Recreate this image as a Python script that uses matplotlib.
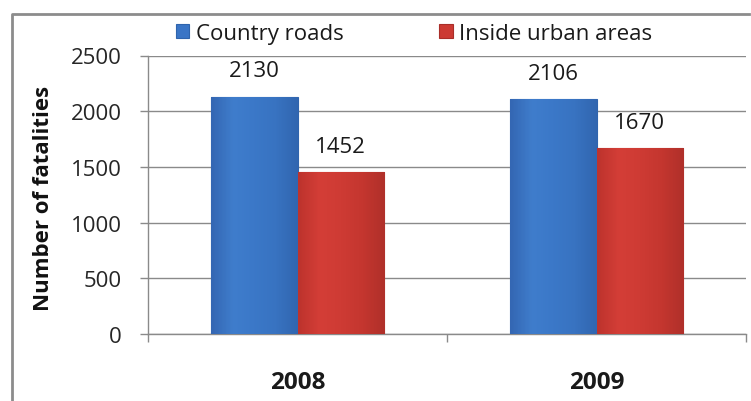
import numpy as np
import matplotlib.pyplot as plt
from matplotlib.colors import LinearSegmentedColormap
from matplotlib.lines import Line2D

years = ['2008', '2009']
series_names = ['Country roads', 'Inside urban areas']
country_roads = [2130, 2106]
urban_areas = [1452, 1670]
yticks = [0, 500, 1000, 1500, 2000, 2500]

plt.rcParams['font.family'] = ['Open Sans', 'DejaVu Sans']

fig = plt.figure(figsize=(7.51, 4.02), dpi=100)
ax = fig.add_axes([148 / 751, 67 / 402, 598 / 751, 278.5 / 402])

x = np.arange(len(years))
w = 0.288
bars1 = ax.bar(x - w / 2, country_roads, w, color='#3a75c6', edgecolor='#2f64ad', linewidth=0.8, zorder=3)
bars2 = ax.bar(x + w / 2, urban_areas, w, color='#cc3a33', edgecolor='#a92e29', linewidth=0.8, zorder=3)

# soft bevel: horizontal shading clipped to each bar
shades = {
    id(bars1): ['#3467b3', '#3f7dcc', '#3b78c8', '#3873c1', '#3166b0'],
    id(bars2): ['#bd332d', '#d43e37', '#ce3b34', '#c4362f', '#b0302a'],
}
grad = np.linspace(0, 1, 64).reshape(1, -1)
for bars in (bars1, bars2):
    cmap = LinearSegmentedColormap.from_list('bevel', shades[id(bars)])
    for p in bars:
        x0, y0 = p.get_x(), p.get_y()
        im = ax.imshow(grad, cmap=cmap, aspect='auto', zorder=3.5,
                       extent=(x0, x0 + p.get_width(), y0, y0 + p.get_height()))
        im.set_clip_path(p)

for bars, vals in ((bars1, country_roads), (bars2, urban_areas)):
    for p, v in zip(bars, vals):
        ax.annotate(str(v), (p.get_x() + p.get_width() / 2, v), xytext=(0, 11),
                    textcoords='offset points', ha='center', va='bottom',
                    fontsize=16, color='#1a1a1a')

ax.set_xlim(-0.5, 1.5)
ax.set_ylim(0, 2500)
ax.set_yticks(yticks)
ax.set_yticklabels([str(t) for t in yticks], fontsize=16, color='#262626')
ax.yaxis.grid(True, color='#8a8a8a', linewidth=1, zorder=0)
ax.tick_params(axis='y', length=6, width=1, color='#8a8a8a', pad=13)

ax.set_xticks(x)
ax.set_xticklabels(years, fontsize=17.5, fontweight='bold', color='#1a1a1a')
ax.set_xticks([-0.5, 0.5, 1.5], minor=True)
ax.tick_params(axis='x', which='major', length=0, pad=26)
ax.tick_params(axis='x', which='minor', length=6, width=1, color='#8a8a8a')

for s in ('top', 'right'):
    ax.spines[s].set_visible(False)
for s in ('left', 'bottom'):
    ax.spines[s].set_color('#8a8a8a')
    ax.spines[s].set_linewidth(1)

ax.set_ylabel('Number of fatalities', fontsize=16, fontweight='bold', color='#111111')
ax.yaxis.set_label_coords(-0.157, 0.49)

leg = ax.legend([bars1, bars2], series_names, loc='center', bbox_to_anchor=(0.445, 1.08),
                ncol=2, frameon=False, fontsize=16, handlelength=0.6, handleheight=0.6,
                handletextpad=0.3, columnspacing=4.3, labelcolor='#1a1a1a')

# chart area border (left and top edges visible)
fig.add_artist(Line2D([12 / 751, 12 / 751, 749 / 751], [-0.05, 1 - 15 / 402, 1 - 15 / 402],
                      transform=fig.transFigure, color='#8c8c8c', linewidth=2))

fig.savefig('out.png', dpi=100)
